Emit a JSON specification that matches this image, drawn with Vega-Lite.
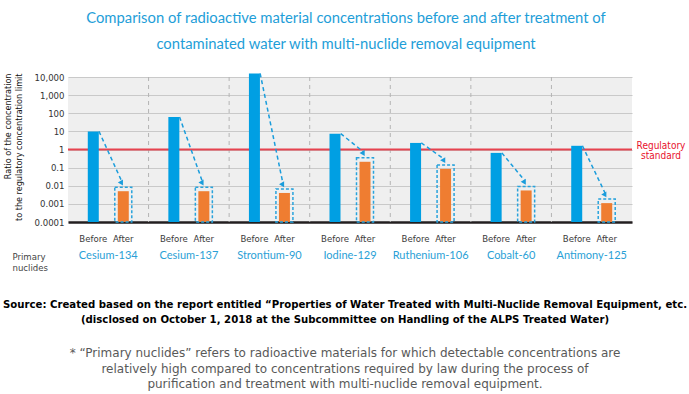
{
  "$schema": "https://vega.github.io/schema/vega-lite/v6.json",
  "width": 564,
  "height": 145,
  "autosize": {"type": "none"},
  "padding": {"left": 68, "top": 77, "right": 57, "bottom": 172},
  "background": "white",
  "title": {
    "text": ["Comparison of radioactive material concentrations before and after treatment of", "contaminated water with multi-nuclide removal equipment"],
    "anchor": "middle",
    "frame": "group",
    "color": "#1e9ed8",
    "font": "Lato",
    "fontSize": 14.8,
    "fontWeight": "normal",
    "lineHeight": 26,
    "baseline": "bottom",
    "offset": 5,
    "dx": -4
  },
  "config": {
    "view": {"fill": "#efefef", "stroke": null},
    "font": "DejaVu Sans Condensed, DejaVu Sans, sans-serif"
  },
  "datasets": {
    "conc": [
      {"nuclide": "Cesium-134", "stage": "Before", "value": 10},
      {"nuclide": "Cesium-134", "stage": "After", "value": 0.005},
      {"nuclide": "Cesium-137", "stage": "Before", "value": 62},
      {"nuclide": "Cesium-137", "stage": "After", "value": 0.005},
      {"nuclide": "Strontium-90", "stage": "Before", "value": 15800},
      {"nuclide": "Strontium-90", "stage": "After", "value": 0.004},
      {"nuclide": "Iodine-129", "stage": "Before", "value": 7.5},
      {"nuclide": "Iodine-129", "stage": "After", "value": 0.21},
      {"nuclide": "Ruthenium-106", "stage": "Before", "value": 2.3},
      {"nuclide": "Ruthenium-106", "stage": "After", "value": 0.085},
      {"nuclide": "Cobalt-60", "stage": "Before", "value": 0.65},
      {"nuclide": "Cobalt-60", "stage": "After", "value": 0.0055},
      {"nuclide": "Antimony-125", "stage": "Before", "value": 1.6},
      {"nuclide": "Antimony-125", "stage": "After", "value": 0.0011}
    ]
  },
  "layer": [
    {
      "data": {"name": "conc"},
      "transform": [{"filter": "datum.stage === 'Before' && datum.nuclide !== 'Cesium-134'"}],
      "mark": {"type": "rule", "color": "#b4b4b4", "strokeWidth": 1, "strokeDash": [4, 4], "xOffset": -40.29},
      "encoding": {
        "x": {"field": "nuclide", "type": "nominal", "scale": {"domain": ["Cesium-134", "Cesium-137", "Strontium-90", "Iodine-129", "Ruthenium-106", "Cobalt-60", "Antimony-125"]}}
      }
    },
    {
      "data": {"values": [{"standard": 1}]},
      "mark": {"type": "rule", "color": "#e6424f", "strokeWidth": 2},
      "encoding": {
        "y": {"field": "standard", "type": "quantitative"}
      }
    },
    {
      "data": {"name": "conc"},
      "mark": {"type": "bar", "width": 11},
      "encoding": {
        "x": {
          "field": "nuclide",
          "type": "nominal",
          "scale": {"domain": ["Cesium-134", "Cesium-137", "Strontium-90", "Iodine-129", "Ruthenium-106", "Cobalt-60", "Antimony-125"], "paddingInner": 0, "paddingOuter": 0},
          "axis": {
            "bandPosition": 0.5,
            "title": ["Primary", "nuclides"],
            "titleX": -56,
            "titleY": 29,
            "titleAlign": "left",
            "titleAnchor": "start",
            "titleBaseline": "top",
            "titleFontSize": 9.5,
            "titleFontWeight": "normal",
            "titleColor": "#444444",
            "titleLineHeight": 11,
            "labelAngle": 0,
            "labelAlign": "center",
            "labelBaseline": "top",
            "labelFont": "Lato",
            "labelFontSize": 11,
            "labelColor": "#2a9fd6",
            "labelPadding": 27,
            "ticks": false,
            "grid": false,
            "domain": true,
            "domainColor": "#231f20",
            "domainWidth": 2.5
          }
        },
        "xOffset": {"field": "stage", "type": "nominal", "sort": ["Before", "After"], "scale": {"paddingInner": 0.5, "paddingOuter": 0.593}},
        "y": {
          "field": "value",
          "type": "quantitative",
          "scale": {"type": "log", "domain": [0.0001, 10000], "nice": false},
          "axis": {
            "values": [0.0001, 0.001, 0.01, 0.1, 1, 10, 100, 1000, 10000],
            "labelExpr": "datum.value >= 1 ? format(datum.value, ',.0f') : format(datum.value, '.1~r')",
            "labelFontSize": 9.5,
            "labelColor": "#333333",
            "labelPadding": 4,
            "ticks": false,
            "domain": false,
            "gridColor": "#c9c9c9",
            "gridWidth": 1,
            "title": ["Ratio of the concentration", "to the regulatory concentration limit"],
            "titleFontSize": 9,
            "titleFontWeight": "normal",
            "titleColor": "#111111",
            "titleAnchor": "end",
            "titleAlign": "right",
            "titleBaseline": "top",
            "titleX": -65,
            "titleY": -4,
            "titleLineHeight": 11
          }
        },
        "y2": {"datum": 0.0001},
        "color": {
          "field": "stage",
          "type": "nominal",
          "scale": {"domain": ["Before", "After"], "range": ["#009fe3", "#ef7d31"]},
          "legend": null
        }
      }
    },
    {
      "data": {"name": "conc"},
      "transform": [{"filter": "datum.stage === 'After'"}],
      "mark": {"type": "bar", "width": 17, "fillOpacity": 0, "stroke": "#29a3dc", "strokeWidth": 1.5, "strokeDash": [3, 2], "yOffset": -4},
      "encoding": {
        "x": {"field": "nuclide", "type": "nominal"},
        "xOffset": {"field": "stage", "type": "nominal", "sort": ["Before", "After"]},
        "y": {"field": "value", "type": "quantitative"},
        "y2": {"datum": 0.0001}
      }
    },
    {
      "data": {"name": "conc"},
      "transform": [{"pivot": "stage", "value": "value", "groupby": ["nuclide"]}],
      "mark": {"type": "rule", "color": "#1a9ddc", "strokeWidth": 1.5, "strokeDash": [4, 3], "y2Offset": -10, "xOffset": -9.3, "x2Offset": 13.4},
      "encoding": {
        "x": {"field": "nuclide", "type": "nominal"},
        "x2": {"field": "nuclide"},
        "y": {"field": "Before", "type": "quantitative"},
        "y2": {"field": "After"}
      }
    },
    {
      "data": {"name": "conc"},
      "transform": [{"pivot": "stage", "value": "value", "groupby": ["nuclide"]}],
      "mark": {"type": "point", "shape": "triangle-down", "filled": true, "opacity": 1, "size": 35, "color": "#1a9ddc", "yOffset": -8, "xOffset": 13.4, "angle": 330},
      "encoding": {
        "x": {"field": "nuclide", "type": "nominal"},
        "y": {"field": "After", "type": "quantitative"}
      }
    },
    {
      "data": {"name": "conc"},
      "mark": {"type": "text", "fontSize": 9.5, "color": "#3a3a3a", "baseline": "middle", "dy": 17},
      "encoding": {
        "x": {"field": "nuclide", "type": "nominal"},
        "xOffset": {"field": "stage", "type": "nominal", "sort": ["Before", "After"]},
        "y": {"datum": 0.0001},
        "text": {"field": "stage"}
      }
    },
    {
      "data": {"values": [{"standard": 1, "label": "Regulatory standard"}]},
      "mark": {"type": "text", "text": ["Regulatory", "standard"], "fontSize": 10, "color": "#e8112d", "align": "center", "baseline": "middle", "lineHeight": 10, "dx": 69.3, "dy": -4},
      "encoding": {
        "x": {"datum": "Antimony-125"},
        "y": {"field": "standard", "type": "quantitative"}
      }
    },
    {
      "data": {"values": [{"note": "source"}]},
      "mark": {"type": "text", "text": ["Source: Created based on the report entitled “Properties of Water Treated with Multi-Nuclide  Removal Equipment,  etc.", "(disclosed on October 1, 2018 at the Subcommittee on Handling of the ALPS Treated Water)"], "font": "DejaVu Sans Condensed, DejaVu Sans, sans-serif", "fontSize": 11.3, "fontWeight": "bold", "color": "#000000", "align": "center", "baseline": "middle", "lineHeight": 14.5, "dy": 83, "dx": -5},
      "encoding": {
        "x": {"datum": "Iodine-129"},
        "y": {"datum": 0.0001}
      }
    },
    {
      "data": {"values": [{"note": "footnote"}]},
      "mark": {"type": "text", "text": ["* “Primary nuclides” refers to radioactive materials for which detectable concentrations are", "relatively high compared to concentrations required by law during the process of", "purification and treatment with multi-nuclide removal equipment."], "font": "DejaVu Sans", "fontSize": 12, "color": "#595959", "align": "center", "baseline": "middle", "lineHeight": 15.7, "dy": 131, "dx": -5},
      "encoding": {
        "x": {"datum": "Iodine-129"},
        "y": {"datum": 0.0001}
      }
    }
  ]
}
